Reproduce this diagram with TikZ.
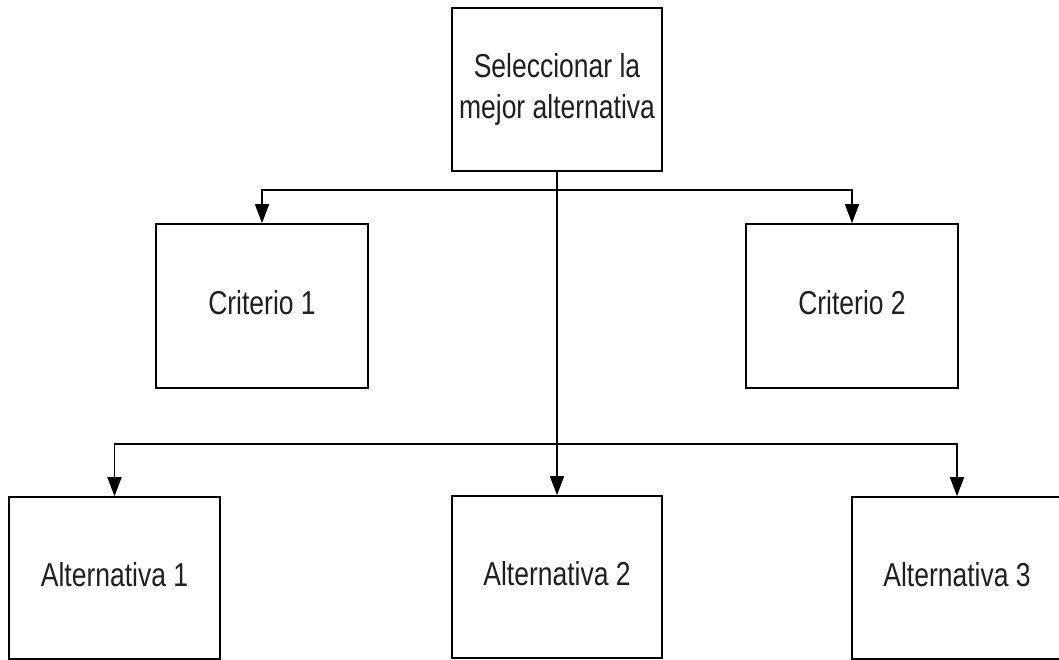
\documentclass[tikz,border=0pt]{standalone}
\usepackage{fontspec}
\setmainfont{Liberation Sans}
\usetikzlibrary{arrows.meta}
\newcommand{\vtext}[1]{\scalebox{1}[1.25]{\begin{tabular}{@{}c@{}}#1\end{tabular}}}
\begin{document}
\begin{tikzpicture}[x=1pt,y=-1pt,
  box/.style={draw=black,line width=1.6pt,rectangle,inner sep=0pt,fill=white,
    font=\fontsize{26.5}{33}\selectfont,text=black!88},
  arr/.style={draw=black,line width=1.6pt,-{Triangle[length=19pt,width=14pt]}},
  ln/.style={draw=black,line width=1.6pt}]
\useasboundingbox (0,0) rectangle (1059,660);
\node[box,minimum width=210pt,minimum height=163pt] (top) at (557,89.5) {\vtext{Seleccionar la\\mejor alternativa}};
\node[box,minimum width=212pt,minimum height=164pt] (c1) at (262,306) {\vtext{Criterio 1}};
\node[box,minimum width=212pt,minimum height=164pt] (c2) at (852,306) {\vtext{Criterio 2}};
\node[box,minimum width=211pt,minimum height=162pt] (a1) at (114.5,578) {\vtext{Alternativa 1}};
\node[box,minimum width=210pt,minimum height=162pt] (a2) at (557,577) {\vtext{Alternativa 2}};
\node[box,minimum width=210pt,minimum height=162pt] (a3) at (957,578) {\vtext{Alternativa 3}};
\coordinate (j1) at (557,190);
\coordinate (j2) at (557,444);
\draw[arr] (top.south) -- (a2.north);
\draw[arr] (j1) -| (c1.north);
\draw[arr] (j1) -| (c2.north);
\draw[arr] (j2) -| (a1.north);
\draw[arr] (j2) -| (a3.north);
\end{tikzpicture}
\end{document}
